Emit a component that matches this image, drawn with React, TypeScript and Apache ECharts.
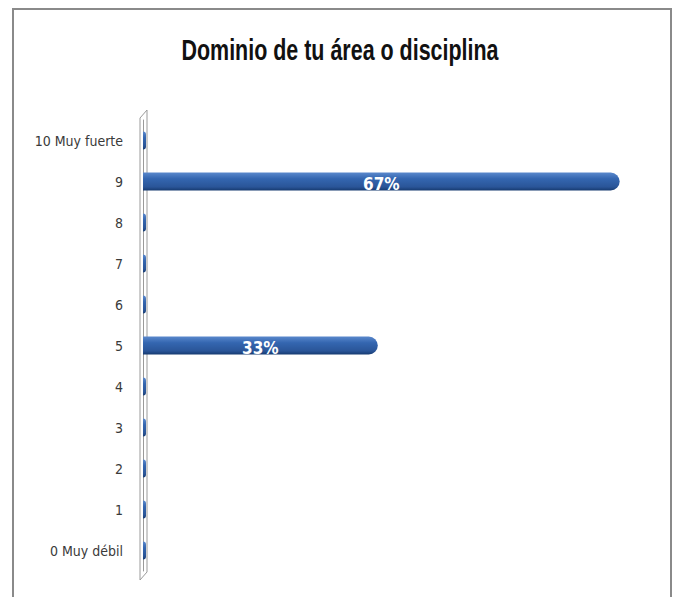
import React, { useEffect, useRef } from "react";
import * as echarts from "echarts";

const categories = ["0 Muy débil", "1", "2", "3", "4", "5", "6", "7", "8", "9", "10 Muy fuerte"];
const shares = [0, 0, 0, 0, 0, 0.33, 0, 0, 0, 0.67, 0];
const titleText = "Dominio de tu área o disciplina";

export default function App() {
  const ref = useRef<HTMLDivElement>(null);
  useEffect(() => {
    document.body.style.margin = "0";
    if (!ref.current) return;
    const chart = echarts.init(ref.current, null, { renderer: "svg" });
    const barGradient = new echarts.graphic.LinearGradient(0, 0, 0, 1, [
      { offset: 0, color: "#5a88cc" },
      { offset: 0.35, color: "#3466b0" },
      { offset: 0.8, color: "#2a5598" },
      { offset: 1, color: "#163a70" },
    ]);
    chart.setOption({
      animation: false,
      backgroundColor: "#ffffff",
      graphic: [
        {
          type: "rect",
          shape: { x: 13, y: 9, width: 658, height: 620 },
          style: { fill: "none", stroke: "#8a8a8a", lineWidth: 2 },
          silent: true,
        },
        {
          type: "polygon",
          shape: { points: [[140, 118], [147, 110], [147, 572], [140, 580]] },
          style: { fill: "none", stroke: "#9a9a9a", lineWidth: 1 },
          silent: true,
        },
        {
          type: "text",
          x: 340,
          y: 50,
          scaleX: 0.74,
          style: {
            text: titleText,
            fontFamily: "Liberation Sans, Arial, sans-serif",
            fontSize: 29,
            fontWeight: "bold",
            fill: "#111111",
            align: "center",
            verticalAlign: "middle",
          },
          silent: true,
        },
      ],
      grid: { left: 143, right: 34, top: 120, bottom: 26, containLabel: false },
      xAxis: {
        type: "value",
        min: 0,
        max: 0.7,
        show: false,
        splitLine: { show: false },
      },
      yAxis: {
        type: "category",
        data: categories,
        axisLine: { show: true, lineStyle: { color: "#9a9a9a", width: 1 } },
        axisTick: { show: false },
        axisLabel: {
          margin: 20,
          fontFamily: "DejaVu Sans Condensed, Liberation Sans, sans-serif",
          fontSize: 14,
          color: "#3a3a3a",
        },
      },
      series: [
        {
          type: "bar",
          data: shares,
          barWidth: 18,
          barMinHeight: 3,
          itemStyle: { color: barGradient, borderRadius: [0, 9, 9, 0] },
          label: {
            show: true,
            position: "inside",
            offset: [0, 2],
            formatter: (p: any) => (p.value > 0 ? Math.round(p.value * 100) + "%" : ""),
            color: "#ffffff",
            fontFamily: "DejaVu Sans Condensed, Liberation Sans, sans-serif",
            fontSize: 17,
            fontWeight: "bold",
          },
        },
      ],
    });
    return () => chart.dispose();
  }, []);
  return <div ref={ref} style={{ width: 675, height: 597 }} />;
}
